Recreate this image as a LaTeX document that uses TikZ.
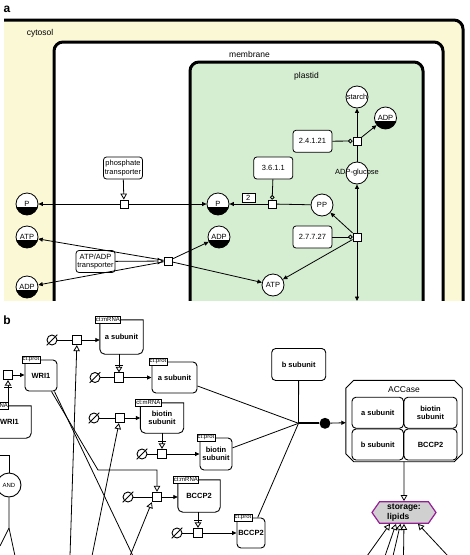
\documentclass[tikz,border=0pt]{standalone}
\usepackage{fontspec}
\setmainfont{Liberation Sans}
\usetikzlibrary{arrows.meta,shapes.symbols}
\definecolor{cytosolYellow}{RGB}{251,248,214}
\definecolor{plastidGreen}{RGB}{213,237,209}
\definecolor{lipidPurple}{RGB}{150,30,150}
\definecolor{lipidGrey}{RGB}{208,208,208}
\newcommand{\diagramfont}{\fontsize{7.5}{8.5}\selectfont}
\newcommand{\tagtextfont}{\fontsize{6}{6}\selectfont}
\begin{document}
\begin{tikzpicture}
[x=1pt,y=-1pt,
  lineDecorate/.style={-,line width=0.8pt},%
  prodDecorate/.style={lineDecorate,-{Triangle[length=4.5pt,width=4pt]}},%
  stimDecorate/.style={lineDecorate,-{Triangle[open,length=6pt,width=6.5pt]}},%
  catDecorate/.style={lineDecorate,-{Circle[open,length=4.5pt]}},%
  needDecorate/.style={lineDecorate,-{Bar[width=8pt,sep=1.5pt]Triangle[open,length=5.5pt,width=6.5pt]}},%
  compartmentDecorate/.style={line width=3pt,rounded corners=9pt},%
  nodeDecorate/.style={shape=circle,draw,line width=0.8pt,fill=white,inner sep=0pt,minimum size=22pt,font=\diagramfont},%
  cloneDecorate/.style={nodeDecorate,path picture={\fill[black] ([yshift=-3pt]path picture bounding box.west) rectangle (path picture bounding box.south east);}},%
  enzymeDecorate/.style={draw,fill=white,rounded corners=3pt,line width=0.8pt,align=center,font=\diagramfont,inner sep=0.5pt,minimum width=39pt,minimum height=22pt},%
  processDecorate/.style={draw,fill=white,line width=0.8pt,inner sep=0pt,minimum size=8pt},%
  macroDecorate/.style={draw,fill=white,rounded corners=4pt,line width=0.9pt,align=center,font=\bfseries\diagramfont,inner sep=1pt},%
  mrnaDecorate/.style={align=center,font=\bfseries\diagramfont,inner sep=1pt},%
  tagDecorate/.style={draw,fill=white,line width=0.6pt,inner sep=0.8pt,minimum height=7pt,font=\tagtextfont,anchor=west},%
  sinkDecorate/.style={shape=circle,draw,line width=0.9pt,inner sep=0pt,minimum size=10pt},%
  boxDecorate/.style={processDecorate,minimum size=9.5pt}]
\useasboundingbox (0,0) rectangle (470,555);
\clip (0,0) rectangle (470,555);
%% panel a: compartments
\begin{scope}
  \clip (4,0) rectangle (470,300);
  \filldraw[compartmentDecorate,fill=cytosolYellow] (-20,20) -- (463,20) -- (463,340) -- (-20,340) -- cycle;
  \filldraw[compartmentDecorate,fill=white] (54,42) -- (443,42) -- (443,340) -- (54,340) -- cycle;
  \filldraw[compartmentDecorate,fill=plastidGreen] (190,62) -- (423,62) -- (423,340) -- (190,340) -- cycle;
\end{scope}
\node (panelA) at (7,9) [font=\bfseries\fontsize{12}{12}\selectfont] {a};
\foreach \nodename/\x/\y in {cytosol/40/33, membrane/249.5/54, plastid/306.5/76}
{
  \node (\nodename Label) at (\x,\y) [font=\fontsize{8.5}{9}\selectfont] {\nodename};
}
%% panel a: species
\foreach \nodename/\x/\y/\kind/\txt in {
  Pcyt/27/204/cloneDecorate/P, ATPcyt/27/237/cloneDecorate/ATP, ADPcyt/27/287/cloneDecorate/ADP,
  Pplas/218/204/cloneDecorate/P, ADPplas/219/237/cloneDecorate/ADP, ADPst/385.5/118/cloneDecorate/ADP,
  ATPplas/273/285/nodeDecorate/ATP, PP/322/205/nodeDecorate/PP, starch/357/97/nodeDecorate/starch,
  ADPglc/357/173/nodeDecorate/{}}
{
  \node (\nodename) at (\x,\y) [\kind] {\txt};
}
\node (ADPglcText) at (ADPglc) [font=\diagramfont] {ADP-glucose};
%% panel a: processes and enzymes
\foreach \nodename/\x/\y in {tP/124/204, tA/168/261, rOne/272/204, rTwo/357/237, rThree/357/141}
{
  \node (\nodename) at (\x,\y) [processDecorate] {};
}
\foreach \nodename/\x/\y/\txt in {
  tPE/123/168/{phosphate\\transporter}, tAE/95.5/261.5/{ATP/ADP\\transporter},
  rOneE/273.3/168/3.6.1.1, rTwoE/312.5/237/2.7.7.27, rThreeE/312.5/141.3/2.4.1.21}
{
  \node (\nodename) at (\x,\y) [enzymeDecorate] {\txt};
}
\node (stoich) at (248.3,197.8) [draw,fill=white,line width=0.6pt,inner sep=0pt,minimum width=13pt,minimum height=9pt,font=\diagramfont] {2};
\coordinate (rTwoOut) at (357,301);
%% panel a: arcs
\path
\foreach \startnode/\endnode in {tP/Pcyt, tP/Pplas, tA/ATPcyt, tA/ADPcyt, tA/ADPplas, tA/ATPplas,
  rOne/Pplas, rTwo/PP, rTwo/ADPglc, rTwo/ATPplas, rTwo/rTwoOut, rThree/starch, rThree/ADPst}
{
  (\startnode) edge[prodDecorate] (\endnode)
};
\path
\foreach \startnode/\endnode in {rOneE/rOne, rTwoE/rTwo, rThreeE/rThree}
{
  (\startnode) edge[catDecorate] (\endnode)
};
\draw[stimDecorate] (tPE) -- (tP);
\draw[stimDecorate] (tAE) -- (tA);
\draw[lineDecorate] (PP) -- (rOne);
\draw[lineDecorate] (ADPglc) -- (rThree);
%% panel b: nucleic acid features
\node (panelB) at (7,320) [font=\bfseries\fontsize{12}{12}\selectfont] {b};
\foreach \nodename/\x/\y/\w/\h/\txt in {
  mA/121.5/337/43/34/{a subunit}, mB/162/418/43/30/{biotin\\subunit},
  mC/199/496/42/32/BCCP2, mW/9.5/422/43/32/WRI1}
{
  \node (\nodename) at (\x,\y) [mrnaDecorate,minimum width=\w pt,minimum height=\h pt] {\txt};
  \draw[line width=0.9pt] (\nodename.north west) -- ([yshift=5pt]\nodename.south west)
    arc[start angle=180,end angle=270,radius=5pt] -- ([xshift=-5pt]\nodename.south east)
    arc[start angle=270,end angle=360,radius=5pt] -- (\nodename.north east) -- cycle;
  \node (tag\nodename) at ([xshift=-5pt]\nodename.north west) [tagDecorate] {ct:mRNA};
}
%% panel b: macromolecules
\foreach \nodename/\x/\y/\w/\h/\txt in {
  pW/41/375.5/32/31/WRI1, pA/174.5/377.5/45/31/{a subunit},
  pB/216/454/32/32/{biotin\\subunit}, pC/251/533/28/30/BCCP2}
{
  \node (\nodename) at (\x,\y) [macroDecorate,minimum width=\w pt,minimum height=\h pt] {\txt};
  \node (tag\nodename) at ([xshift=-3pt]\nodename.north west) [tagDecorate] {ct:prot};
}
\node (bSub) at (298.7,364.5) [macroDecorate,minimum width=54pt,minimum height=32pt] {b subunit};
%% panel b: processes and sinks
\foreach \nodename/\x/\y in {sA1/77/340, sA2/119/377.5, sB1/120/418, sB2/162/454, sC1/157/497, sC2/198/533, sW/8/375}
{
  \node (\nodename) at (\x,\y) [boxDecorate] {};
}
\foreach \nodename/\x/\y in {eA1/52/340, eA2/95/377.5, eB1/94/418, eB2/142/454, eC1/128/497, eC2/177/533}
{
  \node (\nodename) at (\x,\y) [sinkDecorate] {};
  \draw[line width=0.9pt] ([shift={(-1.5pt,-1.5pt)}]\nodename.south west) -- ([shift={(1.5pt,1.5pt)}]\nodename.north east);
}
%% panel b: complex and lipids
\node (accase) at (404,421) [minimum width=116pt,minimum height=81pt,inner sep=0pt] {};
\draw[line width=0.9pt] ([xshift=8pt]accase.north west) -- ([xshift=-8pt]accase.north east)
  -- ([yshift=-8pt]accase.north east) -- ([yshift=8pt]accase.south east)
  -- ([xshift=-8pt]accase.south east) -- ([xshift=8pt]accase.south west)
  -- ([yshift=8pt]accase.south west) -- ([yshift=-8pt]accase.north west) -- cycle;
\node (accaseLabel) at (404,389.5) [font=\fontsize{8.5}{9}\selectfont] {ACCase};
\foreach \nodename/\x/\y/\w/\txt in {
  cA/377.75/412.75/51.5/{a subunit}, cB/430.5/412.75/53/{biotin\\subunit},
  cC/377.75/444.5/51.5/{b subunit}, cD/430.5/444.5/53/BCCP2}
{
  \node (\nodename) at (\x,\y) [macroDecorate,minimum width=\w pt,minimum height=31pt] {\txt};
}
\node (lipids) at (404,512.5) [signal,signal to=west and east,signal pointer angle=110,draw=lipidPurple,fill=lipidGrey,line width=1.2pt,minimum width=64pt,minimum height=21.5pt,inner sep=1pt,align=left,font=\bfseries\fontsize{8.5}{10}\selectfont] {storage:\\lipids};
\node (dot) at (325,423.3) [shape=circle,fill=black,minimum size=11pt,inner sep=0pt] {};
\node (andNode) at (9,485) [shape=circle,draw,line width=0.9pt,minimum size=24pt,inner sep=0pt,font=\fontsize{6}{6}\selectfont] {AND};
%% panel b: free ends
\foreach \nodename/\x/\y in {inA/70/556, inB/92/556, inC/130/556, outW/133/556, bendW/98/470,
  junction/298.5/423.3, andIn/0/455, andFork/9/528, andOutL/0/546, andOutR/15/556}
{
  \coordinate (\nodename) at (\x,\y);
}
%% panel b: arcs
\path
\foreach \startnode/\endnode in {sA1/mA, sA2/pA, sB1/mB, sB2/pB, sC1/mC, sC2/pC, sW/pW}
{
  (\startnode) edge[prodDecorate] (\startnode -| \endnode.west)
};
\path
\foreach \startnode/\endnode in {eA1/sA1, eA2/sA2, eB1/sB1, eB2/sB2, eC1/sC1, eC2/sC2,
  pA/junction, bSub/junction, pB/junction, pC/junction}
{
  (\startnode) edge[lineDecorate] (\endnode)
};
\path
\foreach \startnode/\endnode in {mA/sA2, mB/sB2, mC/sC2}
{
  (\startnode.south -| \endnode) edge[needDecorate] (\endnode)
};
\draw[needDecorate] (mW.north -| sW) -- (sW);
\path
\foreach \startnode/\endnode in {inA/sA1, inB/sB1, accase/lipids}
{
  (\startnode) edge[stimDecorate] (\endnode)
};
\draw[stimDecorate] (inC) -- (sC1.south west);
\draw[stimDecorate] ([xshift=-6pt]pW.south east) -- (bendW) -| (sC1);
\draw[lineDecorate] ([xshift=-3pt]pW.south east) -- (outW);
\draw[line width=2pt] (junction) -- (dot);
\draw[prodDecorate] (dot) -- (accase);
\foreach \startnode/\x/\dx in {sLa/367/-14, sLb/385/-8, sLc/393/-3.5, sLd/403.5/0, sLe/448/14}
{
  \coordinate (\startnode) at (\x,556);
  \draw[stimDecorate] (\startnode) -- ([xshift=\dx pt]lipids.south);
}
\draw[lineDecorate] (andIn) -| (andNode);
\draw[lineDecorate] (andNode) -- (andFork) -- (andOutL);
\draw[lineDecorate] (andFork) -- (andOutR);
\end{tikzpicture}
\end{document}
